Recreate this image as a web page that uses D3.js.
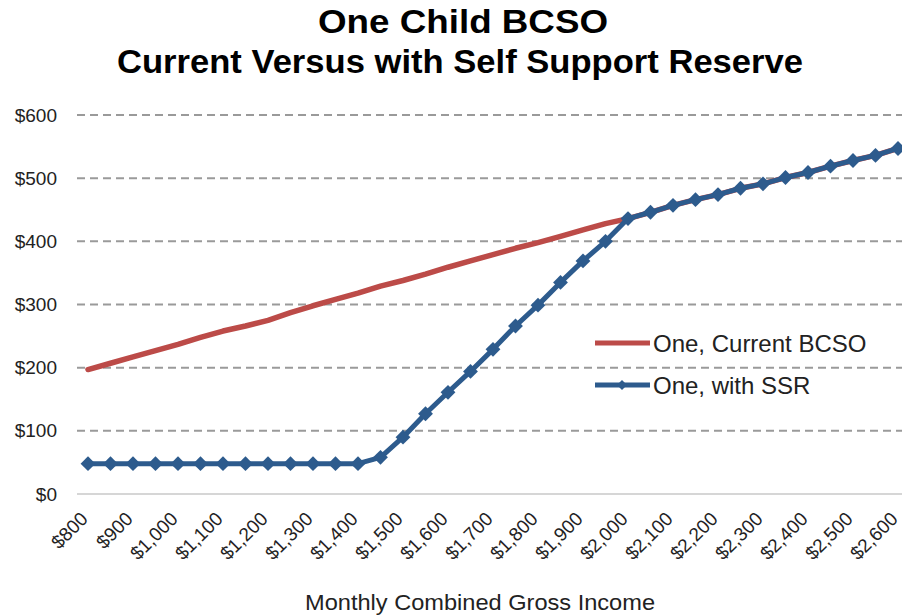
<!DOCTYPE html>
<html>
<head>
<meta charset="utf-8">
<script src="https://cdn.jsdelivr.net/npm/d3@7"></script>
<style>
  html, body { margin: 0; padding: 0; background: #ffffff; }
  svg { display: block; font-family: "Liberation Sans", Arial, sans-serif; }
</style>
</head>
<body>
<svg id="chart" width="902" height="615"></svg>
<script>
// Monthly combined gross income, in $50 steps
const incomes = [800, 850, 900, 950, 1000, 1050, 1100, 1150, 1200, 1250, 1300, 1350,
  1400, 1450, 1500, 1550, 1600, 1650, 1700, 1750, 1800, 1850, 1900, 1950, 2000,
  2050, 2100, 2150, 2200, 2250, 2300, 2350, 2400, 2450, 2500, 2550, 2600];

// Current one-child BCSO
const currentBCSO = [197, 207, 217, 227, 237, 248, 258, 266, 275, 287, 298, 308,
  318, 329, 338, 348, 359, 369, 379, 389, 398, 408, 418, 428, 436,
  446, 457, 466, 474, 484, 491, 501, 509, 519, 528, 536, 547];

// One child with self support reserve
const withSSR = [48, 48, 48, 48, 48, 48, 48, 48, 48, 48, 48, 48,
  48, 58, 90, 127, 161, 194, 229, 266, 299, 335, 369, 400, 436,
  446, 457, 466, 474, 484, 491, 501, 509, 519, 528, 536, 547];

// Labelled categories on the x axis
const xTickValues = [800, 900, 1000, 1100, 1200, 1300, 1400, 1500, 1600, 1700, 1800,
  1900, 2000, 2100, 2200, 2300, 2400, 2500, 2600];
const xTickLabels = ["$800", "$900", "$1,000", "$1,100", "$1,200", "$1,300", "$1,400",
  "$1,500", "$1,600", "$1,700", "$1,800", "$1,900", "$2,000", "$2,100", "$2,200",
  "$2,300", "$2,400", "$2,500", "$2,600"];

const yTickValues = [0, 100, 200, 300, 400, 500, 600];
const yTickLabels = ["$0", "$100", "$200", "$300", "$400", "$500", "$600"];

const seriesNames = ["One, Current BCSO", "One, with SSR"];
const RED = "#BC4B48";
const BLUE = "#2D5B8D";

const svg = d3.select("#chart");

const x = d3.scalePoint().domain(incomes).range([88, 898]);
const y = d3.scaleLinear().domain([0, 600]).range([494, 115]);

// Title
const title = svg.append("g")
  .attr("font-weight", "bold").attr("font-size", 33).attr("fill", "#000")
  .attr("text-anchor", "middle");
title.append("text").attr("x", 463).attr("y", 33)
  .attr("textLength", 290).attr("lengthAdjust", "spacingAndGlyphs")
  .text("One Child BCSO");
title.append("text").attr("x", 460).attr("y", 73)
  .attr("textLength", 686).attr("lengthAdjust", "spacingAndGlyphs")
  .text("Current Versus with Self Support Reserve");

// Horizontal gridlines
const gridX0 = 77, gridX1 = 902;
svg.append("g").selectAll("line")
  .data(yTickValues.filter(v => v > 0))
  .join("line")
  .attr("x1", gridX0).attr("x2", gridX1)
  .attr("y1", d => y(d)).attr("y2", d => y(d))
  .attr("stroke", "#9a9a9a").attr("stroke-width", 2)
  .attr("stroke-dasharray", "8,5");

// Zero baseline
svg.append("line")
  .attr("x1", gridX0).attr("x2", gridX1)
  .attr("y1", y(0)).attr("y2", y(0))
  .attr("stroke", "#c8c8c8").attr("stroke-width", 1.5);

// Y axis labels
const yAxis = d3.axisLeft(y)
  .tickValues(yTickValues)
  .tickFormat((d, i) => yTickLabels[i])
  .tickSize(0).tickPadding(0);
const yG = svg.append("g").attr("transform", "translate(57,0)").call(yAxis);
yG.select(".domain").remove();
yG.selectAll("text")
  .attr("font-size", 19).attr("fill", "#222")
  .attr("font-family", "'Liberation Sans', Arial, sans-serif");

// X axis labels, rotated
const xAxis = d3.axisBottom(x)
  .tickValues(xTickValues)
  .tickFormat((d, i) => xTickLabels[i])
  .tickSize(0).tickPadding(0);
const xG = svg.append("g").call(xAxis);
xG.select(".domain").remove();
xG.selectAll(".tick").attr("transform", d => `translate(${x(d) + 1},${520})`);
xG.selectAll("text")
  .attr("font-size", 19).attr("fill", "#222")
  .attr("font-family", "'Liberation Sans', Arial, sans-serif")
  .attr("text-anchor", "end")
  .attr("x", 0).attr("y", 0).attr("dy", 0)
  .attr("transform", "rotate(-45)");

// X axis title
svg.append("text")
  .attr("x", 480).attr("y", 610)
  .attr("text-anchor", "middle")
  .attr("font-size", 22).attr("fill", "#222")
  .attr("textLength", 350).attr("lengthAdjust", "spacingAndGlyphs")
  .text("Monthly  Combined Gross Income");

// Lines
const line = d3.line().x((d, i) => x(incomes[i])).y(d => y(d));

svg.append("path").datum(currentBCSO)
  .attr("d", line).attr("fill", "none")
  .attr("stroke", RED).attr("stroke-width", 5.5)
  .attr("stroke-linejoin", "round").attr("stroke-linecap", "round");

svg.append("path").datum(withSSR)
  .attr("d", line).attr("fill", "none")
  .attr("stroke", BLUE).attr("stroke-width", 5)
  .attr("stroke-linejoin", "round");

const diamond = d3.symbol().type(d3.symbolSquare).size(110);
svg.append("g").selectAll("path")
  .data(withSSR)
  .join("path")
  .attr("d", diamond)
  .attr("transform", (d, i) => `translate(${x(incomes[i])},${y(d)}) rotate(45)`)
  .attr("fill", BLUE);

// Legend
const legend = svg.append("g");
const legendRows = [
  { name: seriesNames[0], color: RED, marker: false, y: 343 },
  { name: seriesNames[1], color: BLUE, marker: true, y: 385 }
];
legendRows.forEach(r => {
  legend.append("line")
    .attr("x1", 595).attr("x2", 650).attr("y1", r.y).attr("y2", r.y)
    .attr("stroke", r.color).attr("stroke-width", 5);
  if (r.marker) {
    legend.append("path").attr("d", d3.symbol().type(d3.symbolSquare).size(50))
      .attr("transform", `translate(622,${r.y}) rotate(45)`).attr("fill", r.color);
  }
  legend.append("text")
    .attr("x", 653).attr("y", r.y + 9)
    .attr("font-size", 24).attr("fill", "#222")
    .text(r.name);
});
</script>
</body>
</html>
